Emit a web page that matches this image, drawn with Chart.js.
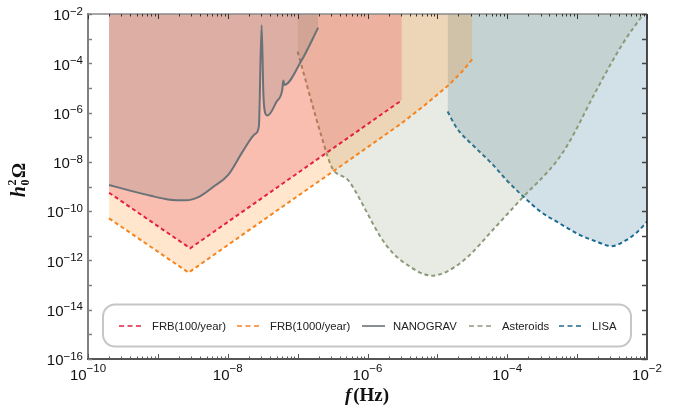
<!DOCTYPE html>
<html><head><meta charset="utf-8">
<script src="https://cdn.jsdelivr.net/npm/chart.js@4.4.1/dist/chart.umd.min.js"></script>
<style>html,body{margin:0;padding:0;background:#fff;}canvas{display:block;}</style>
</head><body>
<canvas id="c" width="676" height="415"></canvas>
<script>
// ---- data (log-log axes) ----
const seriesLabels = ['FRB(100/year)', 'FRB(1000/year)', 'NANOGRAV', 'Asteroids', 'LISA'];

const frb100F = [2.0e-10, 2.9e-9, 3.1e-6];
const frb100H = [5.6e-10, 3.1e-12, 3.2e-6];

const frb1000F = [2.0e-10, 2.75e-9, 7.8e-8, 4.0e-7, 3.0e-6, 6.3e-6, 1.43e-5, 2.24e-5, 3.16e-5];
const frb1000H = [5.1e-11, 3.2e-13, 2.5e-10, 6.3e-9, 3.5e-7, 1.8e-6, 1.26e-5, 4.5e-5, 1.45e-4];

const nanogravF = [2.0e-10, 4.0e-10, 7.9e-10, 1.4e-9, 2.5e-9, 4.0e-9, 6.3e-9, 1.0e-8, 1.66e-8, 2.5e-8, 2.79e-8, 3.05e-8, 3.24e-8, 3.47e-8, 3.72e-8, 5.0e-8, 6.03e-8, 6.24e-8, 6.46e-8, 1.12e-7, 1.97e-7];
const nanogravH = [1.15e-9, 6.8e-10, 4.2e-10, 3.0e-10, 2.75e-10, 4.0e-10, 1.0e-9, 2.8e-9, 2.8e-8, 1.4e-7, 2.8e-7, 3.5e-3, 5.0e-6, 8.9e-7, 7.6e-7, 2.8e-6, 8.3e-6, 2.0e-5, 1.32e-5, 1.2e-4, 2.8e-3];

const asteroidsF = [1.0e-7, 2.2e-7, 3.0e-7, 3.5e-7, 4.2e-7, 5.2e-7, 6.9e-7, 9.8e-7, 1.5e-6, 2.3e-6, 4.1e-6, 6.0e-6, 8.3e-6, 1.2e-5, 1.8e-5, 2.8e-5, 6.3e-5, 1.6e-4, 5.0e-4, 7.9e-4, 1.8e-3, 4.5e-3, 8.9e-3];
const asteroidsH = [3.0e-4, 1.05e-7, 7.1e-9, 3.7e-9, 2.75e-9, 1.9e-9, 5.6e-10, 8.9e-11, 1.0e-11, 2.0e-12, 5.5e-13, 3.0e-13, 2.4e-13, 3.0e-13, 5.6e-13, 1.5e-12, 1.8e-11, 3.2e-10, 1.0e-8, 7.1e-8, 6.3e-6, 6.3e-4, 1.0e-2];

const lisaF = [1.4e-5, 1.9e-5, 3.2e-5, 6.3e-5, 9.8e-5, 1.7e-4, 3.0e-4, 5.6e-4, 1.1e-3, 1.9e-3, 3.1e-3, 5.1e-3, 7.2e-3, 1.0e-2];
const lisaH = [1.1e-6, 2.3e-7, 4.8e-8, 7.4e-9, 1.8e-9, 3.9e-10, 9.5e-11, 3.2e-11, 1.07e-11, 5.8e-12, 3.8e-12, 6.8e-12, 1.4e-11, 3.7e-11];

const xTickExps = [-10, -8, -6, -4, -2];
const yTickExps = [-16, -14, -12, -10, -8, -6, -4, -2];
const xRange = [1e-10, 1e-2];
const yRange = [1e-16, 1e-2];

// ---- build ----
const pts = (xs, ys) => xs.map((x, i) => ({x: x, y: ys[i]}));

const datasets = [
  {label: seriesLabels[0], data: pts(frb100F, frb100H), borderColor: '#e5203d', backgroundColor: 'rgba(230,30,60,0.2)', borderDash: [4, 3], borderWidth: 2, fill: 'end', tension: 0, order: 1},
  {label: seriesLabels[1], data: pts(frb1000F, frb1000H), borderColor: '#f5841f', backgroundColor: 'rgba(255,128,0,0.2)', borderDash: [4, 3], borderWidth: 2, fill: 'end', tension: 0, order: 2},
  {label: seriesLabels[2], data: pts(nanogravF, nanogravH), borderColor: '#6a7177', backgroundColor: 'rgba(100,110,115,0.2)', borderWidth: 2, fill: 'end', cubicInterpolationMode: 'monotone', order: 0},
  {label: seriesLabels[3], data: pts(asteroidsF, asteroidsH), borderColor: '#8c9a7a', backgroundColor: 'rgba(140,150,120,0.2)', borderDash: [4, 3], borderWidth: 2, fill: 'end', cubicInterpolationMode: 'monotone', order: 3},
  {label: seriesLabels[4], data: pts(lisaF, lisaH), borderColor: '#1b6a93', backgroundColor: 'rgba(30,100,140,0.2)', borderDash: [4, 3], borderWidth: 2, fill: 'end', cubicInterpolationMode: 'monotone', order: 4}
];

function rr(ctx, x, y, w, h, r) {
  ctx.beginPath();
  ctx.moveTo(x + r, y);
  ctx.lineTo(x + w - r, y); ctx.arcTo(x + w, y, x + w, y + r, r);
  ctx.lineTo(x + w, y + h - r); ctx.arcTo(x + w, y + h, x + w - r, y + h, r);
  ctx.lineTo(x + r, y + h); ctx.arcTo(x, y + h, x, y + h - r, r);
  ctx.lineTo(x, y + r); ctx.arcTo(x, y, x + r, y, r);
  ctx.closePath();
}

const MAIN = '15px "Liberation Sans", Arial, sans-serif';
const SUP = '11.5px "Liberation Sans", Arial, sans-serif';

function drawPow(ctx, exp, x, yMain, ySup, align) {
  const e = '\u2212' + Math.abs(exp);
  ctx.font = MAIN; const w1 = ctx.measureText('10').width;
  ctx.font = SUP; const w2 = ctx.measureText(e).width;
  const tot = w1 + w2;
  let x0 = align === 'right' ? x - tot : x - tot / 2;
  ctx.textAlign = 'left'; ctx.textBaseline = 'alphabetic';
  ctx.font = MAIN; ctx.fillText('10', x0, yMain);
  ctx.font = SUP; ctx.fillText(e, x0 + w1, ySup);
}

const decor = {
  id: 'decor',
  afterDraw(chart) {
    const ctx = chart.ctx, xs = chart.scales.x, ys = chart.scales.y, a = chart.chartArea;
    ctx.save();
    ctx.setLineDash([]);
    // frame
    ctx.lineWidth = 1.5; ctx.strokeStyle = '#8a8a8a';
    ctx.beginPath(); ctx.moveTo(a.left, a.top); ctx.lineTo(a.right, a.top); ctx.stroke();
    ctx.strokeStyle = '#111';
    ctx.beginPath(); ctx.moveTo(a.right, a.top); ctx.lineTo(a.right, a.bottom); ctx.stroke();
    ctx.lineWidth = 2; ctx.strokeStyle = '#808080';
    ctx.beginPath(); ctx.moveTo(a.left, a.top - 1); ctx.lineTo(a.left, a.bottom); ctx.stroke();
    ctx.strokeStyle = '#555';
    ctx.beginPath(); ctx.moveTo(a.left - 1, a.bottom); ctx.lineTo(a.right + 1, a.bottom); ctx.stroke();
    // x ticks (top and bottom, inward)
    ctx.lineWidth = 1;
    for (let k = xTickExps[0]; k <= xTickExps[xTickExps.length - 1]; k++) {
      for (let m = 1; m <= 9; m++) {
        const v = m * Math.pow(10, k);
        if (v > xRange[1] * 1.0001) break;
        const px = Math.round(xs.getPixelForValue(v)) + 0.5;
        const big = m === 1;
        ctx.strokeStyle = '#555';
        ctx.beginPath(); ctx.moveTo(px, a.bottom); ctx.lineTo(px, a.bottom - (big ? 5 : 2.5)); ctx.stroke();
        ctx.strokeStyle = '#333';
        ctx.beginPath(); ctx.moveTo(px, a.top); ctx.lineTo(px, a.top + (big ? 5 : 2.5)); ctx.stroke();
      }
    }
    // y ticks (each decade)
    for (let k = yTickExps[0]; k <= yTickExps[yTickExps.length - 1]; k++) {
      const py = Math.round(ys.getPixelForValue(Math.pow(10, k))) + 0.5;
      ctx.strokeStyle = '#808080'; ctx.lineWidth = 1.5;
      ctx.beginPath(); ctx.moveTo(a.left, py); ctx.lineTo(a.left + 4, py); ctx.stroke();
      ctx.strokeStyle = '#444'; ctx.lineWidth = 1.5;
      ctx.beginPath(); ctx.moveTo(a.right, py); ctx.lineTo(a.right - 5, py); ctx.stroke();
    }
    // tick labels
    ctx.fillStyle = '#111';
    xTickExps.forEach(e => {
      const px = xs.getPixelForValue(Math.pow(10, e));
      drawPow(ctx, e, px, a.bottom + 21, a.bottom + 13, 'center');
    });
    yTickExps.forEach(e => {
      const py = ys.getPixelForValue(Math.pow(10, e));
      drawPow(ctx, e, a.left - 5, py + 6.3, py + 0.7, 'right');
    });
    // x title
    ctx.font = 'italic bold 19px "Liberation Serif", serif';
    const wf = ctx.measureText('f').width;
    ctx.font = 'bold 19px "Liberation Serif", serif';
    const wh = ctx.measureText('(Hz)').width;
    const tx = 367 - (wf + 2 + wh) / 2;
    ctx.textAlign = 'left';
    ctx.font = 'italic bold 19px "Liberation Serif", serif';
    ctx.fillText('f', tx, 401);
    ctx.font = 'bold 19px "Liberation Serif", serif';
    ctx.fillText('(Hz)', tx + wf + 2, 401);
    // y title (rotated)
    ctx.save();
    ctx.translate(17, 180); ctx.rotate(-Math.PI / 2);
    ctx.font = 'italic bold 20px "Liberation Serif", serif';
    const whh = ctx.measureText('h').width;
    ctx.font = 'bold 12px "Liberation Serif", serif';
    const ws = ctx.measureText('2').width;
    ctx.font = 'bold 19px "Liberation Serif", serif';
    const wo = ctx.measureText('\u03A9').width;
    const u0 = -(whh + ws + 2 + wo) / 2;
    ctx.font = 'italic bold 20px "Liberation Serif", serif';
    ctx.fillText('h', u0, 8);
    ctx.font = 'bold 12px "Liberation Serif", serif';
    ctx.fillText('2', u0 + whh + 0.5, -1);
    ctx.fillText('0', u0 + whh + 0.5, 12);
    ctx.font = 'bold 19px "Liberation Serif", serif';
    ctx.fillText('\u03A9', u0 + whh + ws + 2, 8);
    ctx.restore();
    // legend
    ctx.fillStyle = '#fff';
    rr(ctx, 103, 304.5, 528, 42, 12);
    ctx.fill();
    ctx.lineWidth = 2; ctx.strokeStyle = '#c6c6c6'; ctx.stroke();
    const sx = [119, 237, 362, 469, 559];
    const ly = 326;
    ctx.font = '11.3px "Liberation Sans", Arial, sans-serif';
    ctx.textBaseline = 'middle';
    chart.data.datasets.forEach((d, i) => {
      ctx.strokeStyle = d.borderColor; ctx.lineWidth = 1.6;
      ctx.setLineDash(d.borderDash ? [5, 3.5] : []);
      ctx.beginPath(); ctx.moveTo(sx[i], ly); ctx.lineTo(sx[i] + 23, ly); ctx.stroke();
      ctx.setLineDash([]);
      ctx.fillStyle = '#222';
      ctx.fillText(d.label, i === 2 ? 393 : sx[i] + 33, ly + 0.5);
    });
    ctx.restore();
  }
};

new Chart(document.getElementById('c'), {
  type: 'line',
  data: {datasets: datasets},
  options: {
    responsive: false,
    animation: false,
    devicePixelRatio: 1,
    layout: {padding: {left: 88, right: 29, top: 14, bottom: 56}},
    elements: {point: {radius: 0, hoverRadius: 0}},
    scales: {
      x: {type: 'logarithmic', min: xRange[0], max: xRange[1], display: false},
      y: {type: 'logarithmic', min: yRange[0], max: yRange[1], display: false}
    },
    plugins: {legend: {display: false}, tooltip: {enabled: false}, filler: {propagate: false}}
  },
  plugins: [decor]
});
</script>
</body></html>
